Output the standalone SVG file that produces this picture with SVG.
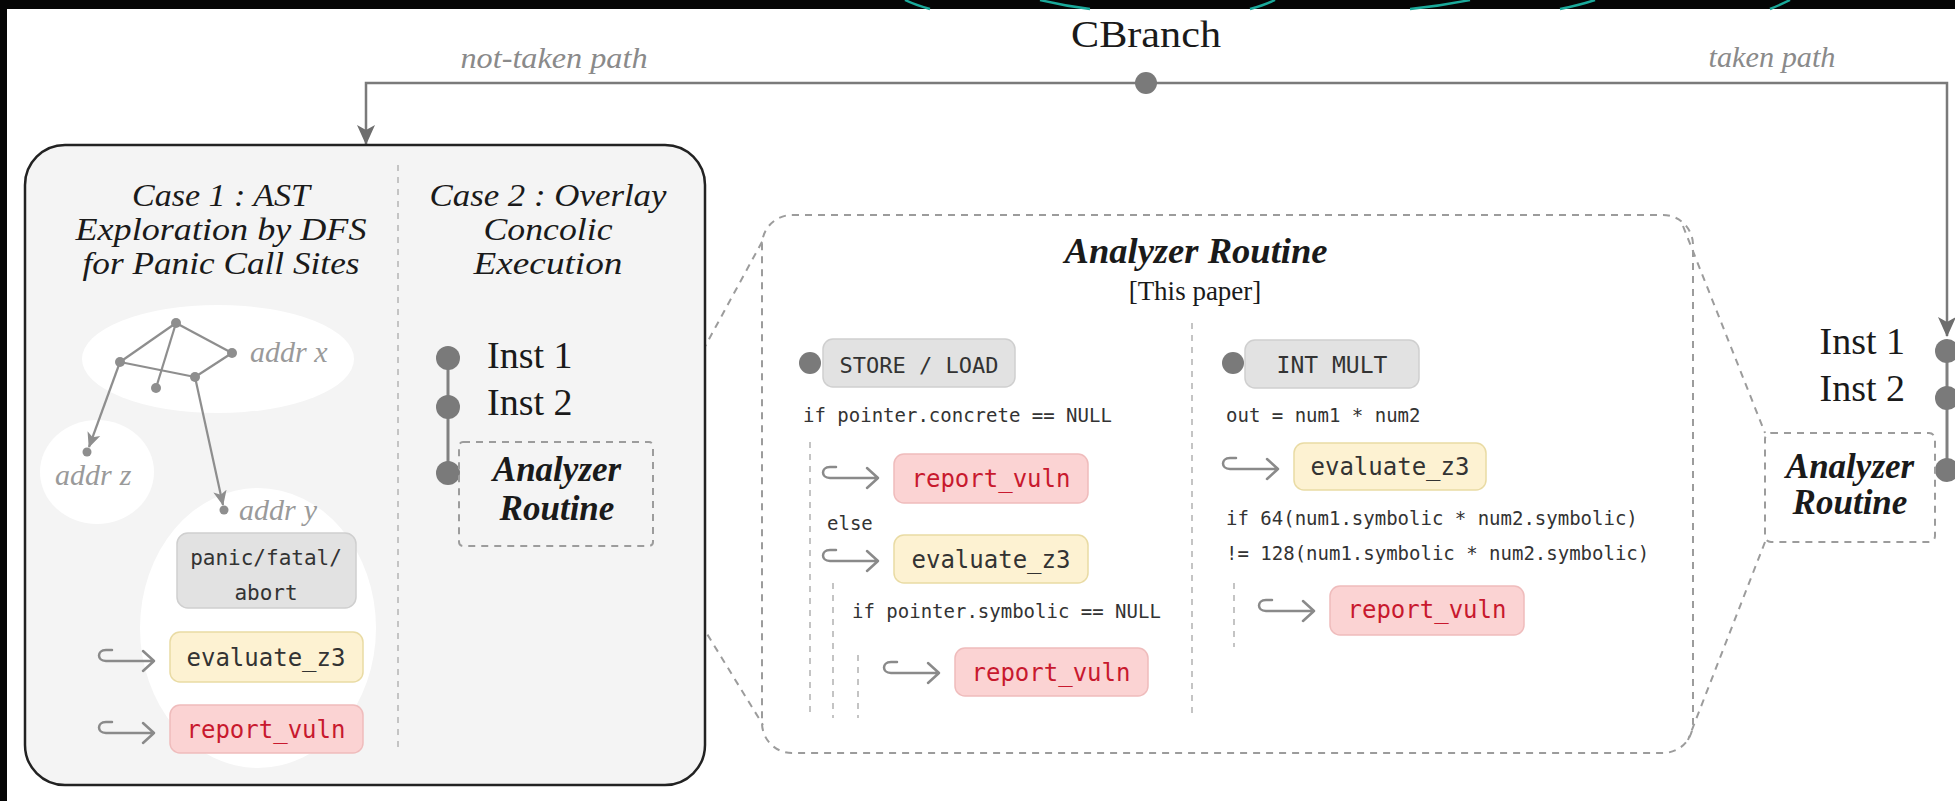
<svg xmlns="http://www.w3.org/2000/svg" xmlns:xlink="http://www.w3.org/1999/xlink" width="1955" height="801" viewBox="0 0 1955 801">
<defs>
<style>
.serif{font-family:"Liberation Serif","DejaVu Serif",serif;fill:#1a1a1a}
.it{font-style:italic}
.bi{font-style:italic;font-weight:bold}
.lbl{font-family:"Liberation Serif",serif;font-style:italic;fill:#8a8a8a}
.addr{font-family:"Liberation Serif",serif;font-style:italic;fill:#9a9a9a;font-size:30px}
.mono{font-family:"DejaVu Sans Mono","Liberation Mono",monospace;fill:#333}
.code{font-family:"DejaVu Sans Mono","Liberation Mono",monospace;fill:#333;font-size:19px}
.conn{fill:none;stroke:#7a7a7a;stroke-width:2.5}
.dash{fill:none;stroke:#9c9c9c;stroke-width:2;stroke-dasharray:7 6}
.guide{fill:none;stroke:#c4c4c4;stroke-width:2;stroke-dasharray:6 6}
.dot{fill:#7a7a7a}
.gray{fill:#e2e2e2;stroke:#cfcfcf;stroke-width:1.5}
.yel{fill:#fdf2d2;stroke:#e9dba4;stroke-width:1.5}
.red{fill:#fbd3d3;stroke:#efbcbc;stroke-width:1.5}
.redt{fill:#c8192e}
.edge{fill:none;stroke:#8e8e8e;stroke-width:2.2}
.hook{fill:none;stroke:#8a8a8a;stroke-width:2.5;stroke-linecap:round;stroke-linejoin:round}
.ttl{font-size:31px}
</style>
<marker id="ah" viewBox="0 0 20 20" refX="19" refY="10" markerWidth="20" markerHeight="20" markerUnits="userSpaceOnUse" orient="auto"><path d="M0,1 L20,10 L0,19 L5,10 z" fill="#6e6e6e"/></marker>
<marker id="ahs" viewBox="0 0 20 20" refX="19" refY="10" markerWidth="15" markerHeight="15" markerUnits="userSpaceOnUse" orient="auto"><path d="M0,1 L20,10 L0,19 L5,10 z" fill="#8e8e8e"/></marker>
<path id="hk" class="hook" d="M13,0 L7,0 C2,0 0,3 0,5.5 C0,8 2,11 7,11 L55,11 M44,1 L55,11 L44,21"/>
</defs>

<rect x="0" y="0" width="1955" height="801" fill="#ffffff"/>
<rect x="0" y="0" width="1955" height="9" fill="#050505"/>
<rect x="0" y="0" width="7" height="801" fill="#050505"/>
<g fill="none" stroke="#1aa99a" stroke-width="2.5">
<path d="M905,0 Q915,5 930,9"/>
<path d="M1040,0 Q1065,6 1090,9"/>
<path d="M1250,9 Q1265,5 1275,0"/>
<path d="M1410,9 Q1440,6 1470,0"/>
<path d="M1560,9 Q1580,5 1595,0"/>
<path d="M1770,9 Q1780,5 1790,0"/>
</g>

<!-- connectors -->
<g id="connectors">
<path class="conn" d="M1146,83 L366,83 L366,144" marker-end="url(#ah)"/>
<path class="conn" d="M1146,83 L1947,83 L1947,336" marker-end="url(#ah)"/>
<line class="dash" x1="653" y1="442" x2="763" y2="240"/>
<line class="dash" x1="653" y1="546" x2="763" y2="725"/>
<line class="dash" x1="1683" y1="226" x2="1765" y2="433"/>
<line class="dash" x1="1765" y1="542" x2="1688" y2="740"/>
</g>

<!-- branch node -->
<g id="cbranch">
<text class="serif" x="1146" y="47" font-size="37" text-anchor="middle" textLength="150" lengthAdjust="spacingAndGlyphs">CBranch</text>
<circle class="dot" cx="1146" cy="83" r="11"/>
<text class="lbl" x="554" y="68" font-size="29" text-anchor="middle" textLength="187" lengthAdjust="spacingAndGlyphs">not-taken path</text>
<text class="lbl" x="1772" y="67" font-size="29" text-anchor="middle" textLength="127" lengthAdjust="spacingAndGlyphs">taken path</text>
</g>

<!-- not-taken box -->
<g id="not-taken-box">
<rect x="25" y="145" width="680" height="640" rx="40" fill="#f4f4f4" stroke="#222" stroke-width="2.5"/>
<line class="guide" x1="398" y1="165" x2="398" y2="748" stroke="#b8b8b8"/>
</g>

<g id="case1">
<text class="serif it ttl" x="221" y="206" text-anchor="middle" textLength="178" lengthAdjust="spacingAndGlyphs">Case 1 : AST</text>
<text class="serif it ttl" x="221" y="240" text-anchor="middle" textLength="291" lengthAdjust="spacingAndGlyphs">Exploration by DFS</text>
<text class="serif it ttl" x="221" y="274" text-anchor="middle" textLength="277" lengthAdjust="spacingAndGlyphs">for Panic Call Sites</text>
<ellipse cx="218" cy="359" rx="136" ry="54" fill="#ffffff"/>
<ellipse cx="97" cy="472" rx="57" ry="52" fill="#ffffff"/>
<ellipse cx="258" cy="628" rx="118" ry="140" fill="#ffffff"/>
<line class="edge" x1="176" y1="323" x2="120" y2="362"/>
<line class="edge" x1="176" y1="323" x2="232" y2="353"/>
<line class="edge" x1="176" y1="323" x2="156" y2="388"/>
<line class="edge" x1="120" y1="362" x2="195" y2="377"/>
<line class="edge" x1="232" y1="353" x2="195" y2="377"/>
<path class="edge" d="M120,362 L89,447" marker-end="url(#ahs)"/>
<path class="edge" d="M195,377 L223,505" marker-end="url(#ahs)"/>
<g fill="#8e8e8e">
<circle cx="176" cy="323" r="5"/><circle cx="120" cy="362" r="5"/><circle cx="232" cy="353" r="5"/>
<circle cx="156" cy="388" r="5"/><circle cx="195" cy="377" r="5"/><circle cx="87" cy="452" r="4.5"/><circle cx="224" cy="510" r="4.5"/>
</g>
<text class="addr" x="250" y="362">addr x</text>
<text class="addr" x="55" y="485">addr<tspan dx="8">z</tspan></text>
<text class="addr" x="239" y="520">addr<tspan dx="8">y</tspan></text>
<rect class="gray" x="177" y="533" width="179" height="75" rx="11"/>
<text class="mono" x="266" y="565" font-size="21" text-anchor="middle">panic/fatal/</text>
<text class="mono" x="266" y="600" font-size="21" text-anchor="middle">abort</text>
<use xlink:href="#hk" x="99" y="650"/>
<rect class="yel" x="170" y="632" width="193" height="50" rx="10"/>
<text class="mono" x="266" y="666" font-size="24" text-anchor="middle">evaluate_z3</text>
<use xlink:href="#hk" x="99" y="722"/>
<rect class="red" x="170" y="705" width="193" height="48" rx="10"/>
<text class="mono redt" x="266" y="738" font-size="24" text-anchor="middle">report_vuln</text>
</g>

<g id="case2">
<text class="serif it ttl" x="548" y="206" text-anchor="middle" textLength="237" lengthAdjust="spacingAndGlyphs">Case 2 : Overlay</text>
<text class="serif it ttl" x="548" y="240" text-anchor="middle" textLength="129" lengthAdjust="spacingAndGlyphs">Concolic</text>
<text class="serif it ttl" x="548" y="274" text-anchor="middle" textLength="149" lengthAdjust="spacingAndGlyphs">Execution</text>
<line x1="448" y1="358" x2="448" y2="473" stroke="#808080" stroke-width="3"/>
<circle class="dot" cx="448" cy="358" r="12"/>
<circle class="dot" cx="448" cy="407" r="12"/>
<circle class="dot" cx="448" cy="473" r="12"/>
<text class="serif" x="487" y="368" font-size="38">Inst 1</text>
<text class="serif" x="487" y="415" font-size="38">Inst 2</text>
<rect class="dash" x="459" y="442" width="194" height="104" rx="4" fill="#f4f4f4"/>
<text class="serif bi" x="557" y="481" font-size="35" text-anchor="middle">Analyzer</text>
<text class="serif bi" x="557" y="520" font-size="35" text-anchor="middle">Routine</text>
</g>

<!-- analyzer routine detail -->
<g id="analyzer-routine">
<rect class="dash" x="762" y="215" width="931" height="538" rx="30" fill="#f5f5f5"/>
<text class="serif bi" x="1196" y="263" font-size="35" text-anchor="middle" textLength="263" lengthAdjust="spacingAndGlyphs">Analyzer Routine</text>
<text class="serif" x="1195" y="300" font-size="27" text-anchor="middle">[This paper]</text>
<line class="guide" x1="1192" y1="323" x2="1192" y2="718"/>
</g>

<g id="store-load">
<circle class="dot" cx="810" cy="363" r="11"/>
<rect class="gray" x="823" y="339" width="192" height="48" rx="10"/>
<text class="mono" x="919" y="373" font-size="22" text-anchor="middle">STORE / LOAD</text>
<text class="code" x="803" y="422">if pointer.concrete == NULL</text>
<line class="guide" x1="810" y1="442" x2="810" y2="718"/>
<use xlink:href="#hk" x="823" y="467"/>
<rect class="red" x="894" y="454" width="194" height="49" rx="10"/>
<text class="mono redt" x="991" y="487" font-size="24" text-anchor="middle">report_vuln</text>
<text class="code" x="827" y="530">else</text>
<use xlink:href="#hk" x="823" y="550"/>
<rect class="yel" x="894" y="535" width="194" height="48" rx="10"/>
<text class="mono" x="991" y="568" font-size="24" text-anchor="middle">evaluate_z3</text>
<line class="guide" x1="833" y1="583" x2="833" y2="718"/>
<text class="code" x="852" y="618">if pointer.symbolic == NULL</text>
<line class="guide" x1="858" y1="655" x2="858" y2="718"/>
<use xlink:href="#hk" x="884" y="662"/>
<rect class="red" x="955" y="648" width="193" height="48" rx="10"/>
<text class="mono redt" x="1051" y="681" font-size="24" text-anchor="middle">report_vuln</text>
</g>

<g id="int-mult">
<circle class="dot" cx="1233" cy="363" r="11"/>
<rect class="gray" x="1245" y="340" width="174" height="48" rx="10"/>
<text class="mono" x="1332" y="373" font-size="23" text-anchor="middle">INT MULT</text>
<text class="code" x="1226" y="422">out = num1 * num2</text>
<use xlink:href="#hk" x="1223" y="458"/>
<rect class="yel" x="1294" y="443" width="192" height="47" rx="10"/>
<text class="mono" x="1390" y="475" font-size="24" text-anchor="middle">evaluate_z3</text>
<text class="code" x="1226" y="525">if 64(num1.symbolic * num2.symbolic)</text>
<text class="code" x="1226" y="560">!= 128(num1.symbolic * num2.symbolic)</text>
<line class="guide" x1="1234" y1="583" x2="1234" y2="647"/>
<use xlink:href="#hk" x="1259" y="600"/>
<rect class="red" x="1330" y="586" width="194" height="49" rx="10"/>
<text class="mono redt" x="1427" y="618" font-size="24" text-anchor="middle">report_vuln</text>
</g>

<!-- taken path -->
<g id="taken-path">
<line x1="1947" y1="351" x2="1947" y2="470" stroke="#808080" stroke-width="3"/>
<circle class="dot" cx="1947" cy="351" r="12"/>
<circle class="dot" cx="1947" cy="398" r="12"/>
<circle class="dot" cx="1947" cy="470" r="12"/>
<text class="serif" x="1905" y="354" font-size="38" text-anchor="end">Inst 1</text>
<text class="serif" x="1905" y="401" font-size="38" text-anchor="end">Inst 2</text>
<rect class="dash" x="1765" y="433" width="170" height="109" rx="6" fill="#f5f5f5"/>
<text class="serif bi" x="1850" y="478" font-size="35" text-anchor="middle">Analyzer</text>
<text class="serif bi" x="1850" y="514" font-size="35" text-anchor="middle">Routine</text>
</g>
</svg>
